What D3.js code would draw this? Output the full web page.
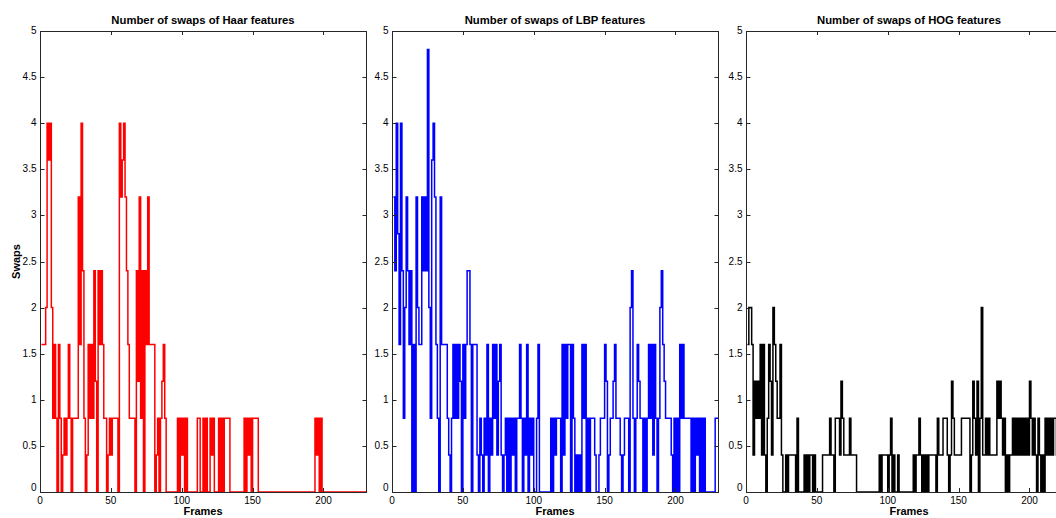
<!DOCTYPE html>
<html>
<head>
<meta charset="utf-8">
<script src="https://cdn.jsdelivr.net/npm/d3@7"></script>
<style>
  body { margin: 0; background: #fff; }
  text { font-family: "Liberation Sans", Arial, Helvetica, sans-serif; fill: #000; }
</style>
</head>
<body>
<div id="chart"></div>
<script>
// swaps per frame (frames 1..230)
const haarSwaps = [
  1.6, 1.6, 1.6, 2.0, 4.0, 3.6, 4.0, 2.0, 0.8, 1.6,
  0.8, 0, 1.6, 0.8, 0, 0.4, 0.8, 0.4, 0.8, 1.6,
  0.8, 0, 0.8, 0.8, 0.8, 0.8, 3.2, 1.6, 4.0, 2.4,
  0.8, 0, 0.4, 1.6, 0.8, 1.6, 0.8, 2.4, 1.2, 0,
  2.4, 1.6, 2.4, 1.6, 0.8, 0.8, 0, 0.4, 0.8, 0.4,
  0.8, 0.8, 0.8, 0.8, 0, 4.0, 3.2, 3.6, 4.0, 3.2,
  2.4, 1.6, 0.8, 0.8, 0.8, 0.8, 0, 2.4, 1.2, 3.2,
  0.8, 2.4, 0, 2.4, 1.6, 3.2, 1.6, 1.6, 1.6, 1.6,
  0, 0.4, 0.8, 0, 0.8, 1.2, 1.6, 0.8, 0, 0,
  0, 0, 0, 0, 0, 0, 0.8, 0, 0.8, 0.4,
  0.8, 0, 0.8, 0, 0, 0, 0, 0, 0, 0,
  0.8, 0.8, 0, 0, 0.8, 0, 0.8, 0, 0, 0.8,
  0.4, 0.8, 0, 0, 0, 0.8, 0, 0.8, 0, 0.8,
  0.8, 0.8, 0.8, 0, 0, 0, 0, 0, 0, 0,
  0, 0, 0, 0.8, 0, 0.8, 0.4, 0.8, 0, 0.8,
  0.8, 0.8, 0.8, 0, 0, 0, 0, 0, 0, 0,
  0, 0, 0, 0, 0, 0, 0, 0, 0, 0,
  0, 0, 0, 0, 0, 0, 0, 0, 0, 0,
  0, 0, 0, 0, 0, 0, 0, 0, 0, 0,
  0, 0, 0, 0.8, 0.4, 0.8, 0, 0.8, 0, 0,
  0, 0, 0, 0, 0, 0, 0, 0, 0, 0,
  0, 0, 0, 0, 0, 0, 0, 0, 0, 0,
  0, 0, 0, 0, 0, 0, 0, 0, 0, 0
];

const lbpSwaps = [
  3.2, 2.4, 4.0, 2.8, 1.6, 4.0, 2.4, 0.8, 2.0, 3.2,
  2.4, 1.6, 2.4, 0, 1.6, 0, 3.2, 2.0, 1.6, 1.6,
  3.2, 2.4, 3.2, 2.4, 4.8, 2.0, 0.8, 3.6, 4.0, 3.2,
  1.6, 0.8, 0, 3.2, 1.6, 1.6, 1.6, 1.6, 0.8, 0.4,
  0, 0.8, 1.6, 0.8, 1.6, 0.8, 1.6, 1.2, 0, 1.6,
  0.8, 1.6, 2.4, 2.4, 1.6, 0, 1.6, 1.6, 1.6, 0.4,
  0, 0.8, 0.4, 0, 0.8, 0.4, 1.6, 0, 0.8, 0.4,
  1.6, 0.8, 1.6, 0.4, 1.2, 1.6, 0.4, 0, 0.4, 0.8,
  0, 0.8, 0, 0.8, 0.4, 0.8, 0, 0.8, 0.8, 1.6,
  0.8, 0, 0.8, 0.4, 1.6, 0, 0.8, 0.4, 0.8, 0,
  0, 0.8, 1.6, 0, 0, 0, 0, 0, 0, 0,
  0, 0.8, 0, 0.8, 0.4, 0.8, 0.8, 0.8, 0, 1.6,
  0.4, 1.6, 0.8, 1.6, 1.6, 0, 1.6, 0.8, 0, 0.4,
  0, 0.4, 0, 1.6, 0.8, 1.6, 0, 0.8, 0, 0.8,
  0.8, 0.8, 0.4, 0, 0, 0.4, 0.8, 0.8, 0.8, 1.6,
  1.2, 0, 0.4, 0.8, 0.8, 1.2, 1.6, 0.8, 0.8, 0.8,
  0.4, 0, 0.4, 0.8, 0.8, 0.8, 0, 2.0, 2.4, 0.8,
  0, 0.8, 1.6, 1.2, 0.8, 0.8, 0, 0.8, 0, 0.8,
  1.6, 0.8, 1.6, 0.4, 1.6, 0.8, 0, 0.8, 2.0, 2.4,
  1.6, 1.2, 0.8, 0.8, 0.8, 0.8, 0.4, 0, 0.8, 0,
  0.8, 0, 1.6, 0.8, 1.6, 0.8, 0.8, 0.8, 0.8, 0.8,
  0, 0.8, 0, 0.8, 0.4, 0.8, 0, 0.8, 0, 0.8,
  0, 0, 0, 0, 0, 0, 0, 0.8, 0.8, 0.8
];

const hogSwaps = [
  1.6, 2.0, 2.0, 1.6, 0.4, 1.2, 0.8, 1.2, 0.8, 1.6,
  0.4, 1.6, 0.4, 0, 0.8, 1.6, 1.2, 0.4, 2.0, 1.6,
  1.2, 0.8, 0.8, 1.6, 0.4, 0, 0, 0.4, 0, 0.4,
  0.4, 0.4, 0.4, 0.4, 0, 0.8, 0, 0, 0, 0,
  0.4, 0, 0.4, 0, 0.4, 0.4, 0, 0.4, 0, 0,
  0, 0, 0, 0.4, 0.4, 0.4, 0.4, 0.4, 0.8, 0.4,
  0.4, 0, 0.8, 0.8, 0.8, 0.4, 1.2, 0.8, 0.4, 0.4,
  0.4, 0.4, 0.8, 0.4, 0.4, 0.4, 0.4, 0, 0, 0,
  0, 0, 0, 0, 0, 0, 0, 0, 0, 0,
  0, 0, 0, 0.4, 0, 0.4, 0.4, 0.4, 0.4, 0,
  0.4, 0.8, 0, 0.4, 0, 0, 0.4, 0, 0, 0,
  0, 0, 0, 0, 0, 0, 0, 0.4, 0, 0.4,
  0.4, 0.8, 0.4, 0, 0.4, 0, 0.4, 0, 0.4, 0.4,
  0.4, 0.4, 0.4, 0, 0.8, 0.4, 0.4, 0.4, 0.8, 0.8,
  0.8, 0.4, 0, 0.4, 1.2, 0.8, 0.4, 0.4, 0.4, 0.4,
  0.4, 0.8, 0.8, 0.8, 0.8, 0.8, 0.8, 0, 0.4, 1.2,
  0.8, 0.4, 1.2, 0, 0.8, 2.0, 0.4, 0.4, 0.8, 0.4,
  0.8, 0.4, 0.4, 0.4, 0.4, 0.4, 1.2, 0.8, 1.2, 0.8,
  0.4, 0.8, 0, 0.4, 0, 0.4, 0.4, 0.8, 0.4, 0.8,
  0.4, 0.8, 0.4, 0.8, 0.4, 0.8, 0.4, 0.8, 0.4, 1.2,
  0.8, 0.4, 0.8, 0.4, 0, 0.8, 0.4, 0, 0.4, 0,
  0.8, 0.4, 0.8, 0.4, 0.8, 0.4, 0.8, 0.8, 0.4, 0.8,
  0.4, 0.8, 0.4, 0.8, 0.4, 0.8, 0.4, 0.8, 0.4, 0.8
];

const panelTitles = ["Number of swaps of Haar features", "Number of swaps of LBP features", "Number of swaps of HOG features"];
const panelColors = ["#ff0000", "#0000ff", "#000000"];
const panelSeries = [haarSwaps, lbpSwaps, hogSwaps];
const xTicks = [0, 50, 100, 150, 200];
const yTicks = [0, 0.5, 1, 1.5, 2, 2.5, 3, 3.5, 4, 4.5, 5];
const xMax = 230, yMax = 5;

const width = 1056, height = 518;
const panelLeft = [40, 392, 746];
const panelWidth = 326;
const plotTop = 31, plotBottom = 492;
const tickLen = 4;

const svg = d3.select("#chart").append("svg")
    .attr("width", width)
    .attr("height", height);

function drawPanel(i) {
    const x0 = panelLeft[i];
    const x = d3.scaleLinear().domain([0, xMax]).range([x0, x0 + panelWidth]);
    const y = d3.scaleLinear().domain([0, yMax]).range([plotBottom, plotTop]);
    const g = svg.append("g");

    // stairs line
    const pts = panelSeries[i].map((v, k) => [k + 1, v]);
    const line = d3.line()
        .x(d => x(d[0]))
        .y(d => y(d[1]))
        .curve(d3.curveStepAfter);
    g.append("path")
        .datum(pts)
        .attr("d", line)
        .attr("fill", "none")
        .attr("stroke", panelColors[i])
        .attr("stroke-width", 1.5);

    // matlab style boxed axes, ticks pointing inward
    const axisColor = "#262626";
    const xl = Math.round(x0) + 0.5, xr = Math.round(x0 + panelWidth) + 0.5;
    g.append("rect")
        .attr("x", xl).attr("y", plotTop + 0.5)
        .attr("width", xr - xl).attr("height", plotBottom - plotTop)
        .attr("fill", "none").attr("stroke", axisColor).attr("stroke-width", 1);

    xTicks.forEach(t => {
        const px = Math.round(x(t)) + 0.5;
        g.append("line").attr("x1", px).attr("x2", px)
            .attr("y1", plotBottom).attr("y2", plotBottom - tickLen).attr("stroke", axisColor);
        g.append("line").attr("x1", px).attr("x2", px)
            .attr("y1", plotTop).attr("y2", plotTop + tickLen).attr("stroke", axisColor);
        g.append("text")
            .attr("x", x(t)).attr("y", plotBottom + 12)
            .attr("text-anchor", "middle")
            .style("font-size", "10px")
            .text(t);
    });

    yTicks.forEach(t => {
        const py = Math.round(y(t)) + 0.5;
        g.append("line").attr("x1", xl).attr("x2", xl + tickLen)
            .attr("y1", py).attr("y2", py).attr("stroke", axisColor);
        g.append("line").attr("x1", xr).attr("x2", xr - tickLen)
            .attr("y1", py).attr("y2", py).attr("stroke", axisColor);
        g.append("text")
            .attr("x", xl - 4).attr("y", y(t) + (t === 0 ? -1 : 3))
            .attr("text-anchor", "end")
            .style("font-size", "10px")
            .text(t);
    });

    g.append("text")
        .attr("x", x0 + panelWidth / 2).attr("y", 24)
        .attr("text-anchor", "middle")
        .style("font-size", "11.3px").style("font-weight", "bold")
        .text(panelTitles[i]);

    g.append("text")
        .attr("x", x0 + panelWidth / 2).attr("y", 515)
        .attr("text-anchor", "middle")
        .style("font-size", "11px").style("font-weight", "bold")
        .text("Frames");

    if (i === 0) {
        g.append("text")
            .attr("transform", `translate(20, ${(plotTop + plotBottom) / 2}) rotate(-90)`)
            .attr("text-anchor", "middle")
            .style("font-size", "11px").style("font-weight", "bold")
            .text("Swaps");
    }
}

[0, 1, 2].forEach(drawPanel);
</script>
</body>
</html>
